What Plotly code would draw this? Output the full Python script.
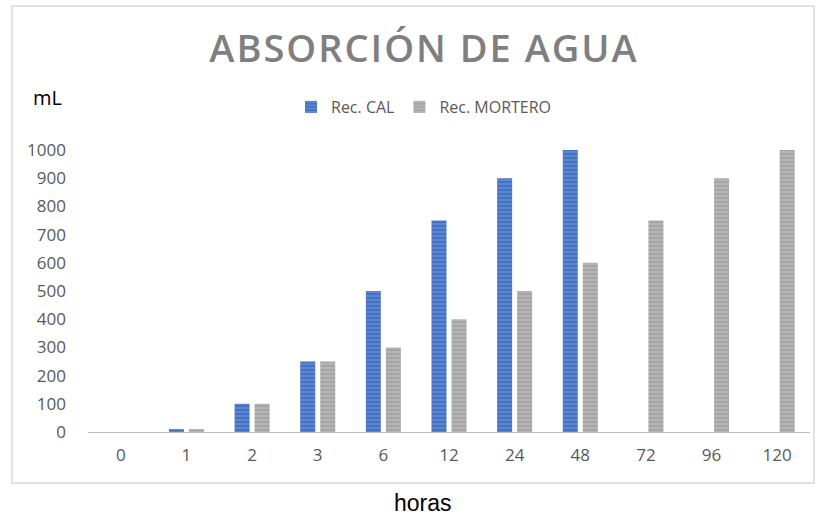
import plotly.graph_objects as go

categories = ["0", "1", "2", "3", "6", "12", "24", "48", "72", "96", "120"]
rec_cal = [0, 10, 100, 250, 500, 750, 900, 1000, 0, 0, 0]
rec_mortero = [0, 10, 100, 250, 300, 400, 500, 600, 750, 900, 1000]
y_ticks = [0, 100, 200, 300, 400, 500, 600, 700, 800, 900, 1000]

fig = go.Figure()
fig.add_trace(go.Bar(
    x=categories, y=rec_cal, name="Rec. CAL",
    marker=dict(color="#4472C4", line=dict(width=0),
                pattern=dict(shape="-", fgcolor="#8FAAE0", bgcolor="#4472C4", size=4, solidity=0.35)),
))
fig.add_trace(go.Bar(
    x=categories, y=rec_mortero, name="Rec. MORTERO",
    marker=dict(color="#A5A5A5", line=dict(width=0),
                pattern=dict(shape="-", fgcolor="#D0D0D0", bgcolor="#A5A5A5", size=4, solidity=0.35)),
))

L, R, T, B = 88, 13, 150, 84
W, H = 823, 516
pw = W - L - R
ph = H - T - B

def px(x):
    return (x - L) / pw

def py(y):
    return (H - B - y) / ph

fig.update_layout(
    width=W, height=H,
    margin=dict(l=L, r=R, t=T, b=B),
    paper_bgcolor="white", plot_bgcolor="white",
    barmode="group", bargap=0.39, bargroupgap=0.25,
    font=dict(family="Open Sans, Calibri, sans-serif", color="#595959"),
    title=dict(text="ABSORCIÓN DE AGUA", x=px(424), xref="paper", xanchor="center",
               y=1 - 49 / H, yanchor="middle",
               font=dict(size=38, color="#7F7F7F", family="Open Sans, sans-serif", weight=600)),
    showlegend=True,
    legend=dict(orientation="h", x=px(424), xanchor="center", y=py(107), yanchor="middle",
                font=dict(size=16, color="#595959"), itemwidth=30, traceorder="normal",
                bgcolor="rgba(0,0,0,0)"),
    xaxis=dict(showgrid=False, showline=True, linecolor="#BFBFBF", linewidth=1,
               ticks="", tickfont=dict(size=17, color="#595959"), ticklabelstandoff=8,
               type="category", fixedrange=True),
    yaxis=dict(range=[0, 1000], tickvals=y_ticks, showgrid=False, showline=False,
               zeroline=False, ticks="", tickfont=dict(size=17, color="#595959"),
               ticklabelstandoff=21, fixedrange=True),
    annotations=[
        dict(text="mL", x=px(31), y=py(98), xref="paper", yref="paper", xanchor="left",
             yanchor="middle", showarrow=False,
             font=dict(size=20, color="#000000", family="Open Sans, sans-serif")),
        dict(text="horas", x=px(423), y=py(503), xref="paper", yref="paper", xanchor="center",
             yanchor="middle", showarrow=False,
             font=dict(size=23, color="#000000", family="Liberation Sans, Arial, sans-serif")),
    ],
    shapes=[
        dict(type="rect", xref="paper", yref="paper", x0=px(12), x1=px(814), y0=py(483), y1=py(6),
             line=dict(color="#D9D9D9", width=1.5), fillcolor="rgba(0,0,0,0)", layer="below"),
    ],
)

post = (
    "document.body.style.margin='0';"
    "document.querySelectorAll('.gtitle').forEach(function(e){e.style.letterSpacing='2px';});"
)
fig.write_html("out.html", post_script=post, config={"displayModeBar": False})
